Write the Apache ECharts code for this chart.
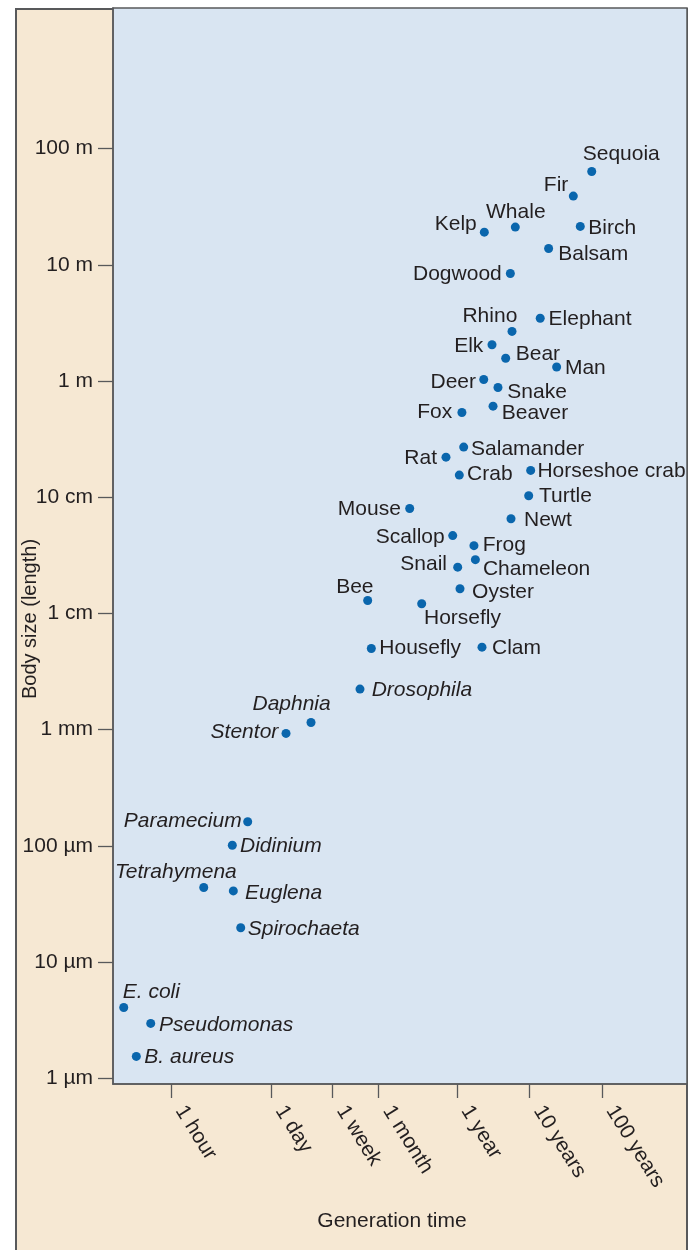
<!DOCTYPE html>
<html>
<head>
<meta charset="utf-8">
<script src="https://cdn.jsdelivr.net/npm/echarts@6/dist/echarts.min.js"></script>
<style>
  html, body { margin: 0; padding: 0; background: #fff; }
  #panel {
    position: absolute; left: 15px; top: 8px; width: 673px; height: 1250px;
    box-sizing: border-box; background: #f6e8d3;
    border: 2px solid #58595b; border-bottom: none;
  }
  #chart { position: absolute; left: 0; top: 0; width: 695px; height: 1250px; }
</style>
</head>
<body>
<div id="panel"></div>
<div id="chart"></div>
<script>
// organisms, generation time (hours) and body length (metres)
const names = [
  'Sequoia', 'Fir', 'Whale', 'Kelp', 'Birch', 'Balsam', 'Dogwood',
  'Rhino', 'Elephant', 'Elk', 'Bear', 'Man', 'Deer', 'Snake', 'Fox', 'Beaver',
  'Salamander', 'Rat', 'Crab', 'Horseshoe crab', 'Turtle', 'Mouse', 'Newt',
  'Scallop', 'Frog', 'Chameleon', 'Snail', 'Oyster', 'Bee', 'Horsefly',
  'Housefly', 'Clam', 'Drosophila', 'Daphnia', 'Stentor',
  'Paramecium', 'Didinium', 'Tetrahymena', 'Euglena', 'Spirochaeta',
  'E. coli', 'Pseudomonas', 'B. aureus'
];
const genHours = [
  637000, 355000, 56200, 21000, 443000, 162000, 48000,
  50600, 124000, 26800, 41400, 209000, 20600, 32400, 10300, 27700,
  10900, 6210, 9480, 91600, 86000, 1960, 49000,
  7690, 15100, 15800, 9010, 9690, 516, 2870,
  579, 19500, 404, 85.2, 38.5,
  11.4, 6.99, 2.82, 7.22, 9.13,
  0.222, 0.523, 0.331
];
const sizeMeters = [
  63.5, 39, 21.1, 19.1, 21.4, 13.8, 8.42,
  2.67, 3.47, 2.05, 1.57, 1.32, 1.03, 0.88, 0.536, 0.607,
  0.270, 0.221, 0.155, 0.170, 0.103, 0.080, 0.0653,
  0.0467, 0.0383, 0.0290, 0.0250, 0.0163, 0.0129, 0.0121,
  0.00499, 0.00512, 0.00223, 0.00115, 0.000927,
  1.61e-4, 1.01e-4, 4.38e-5, 4.09e-5, 1.97e-5,
  4.06e-6, 2.96e-6, 1.54e-6
];
const italicNames = ['Drosophila', 'Daphnia', 'Stentor', 'Paramecium', 'Didinium',
  'Tetrahymena', 'Euglena', 'Spirochaeta', 'E. coli', 'Pseudomonas', 'B. aureus'];

const xTickHours = [1, 24, 168, 730.5, 8766, 87660, 876600];
const xTickLabels = ['1 hour', '1 day', '1 week', '1 month', '1 year', '10 years', '100 years'];
const yTickMeters = [100, 10, 1, 0.1, 0.01, 0.001, 1e-4, 1e-5, 1e-6];
const yTickLabels = ['100 m', '10 m', '1 m', '10 cm', '1 cm', '1 mm', '100 \u00b5m', '10 \u00b5m', '1 \u00b5m'];

// label placement next to each dot: [align, dx, dy]
const labelPlace = {
  'Sequoia': ['left', -9, -17], 'Fir': ['right', -5, -10.5], 'Whale': ['center', 0.5, -15.3],
  'Kelp': ['right', -7.6, -7.5], 'Birch': ['left', 8, 2], 'Balsam': ['left', 9.6, 5.5],
  'Dogwood': ['right', -8.6, 0.7], 'Rhino': ['right', 5.3, -15.3], 'Elephant': ['left', 8.4, 1],
  'Elk': ['right', -8.7, 1.6], 'Bear': ['left', 10, -4.2], 'Man': ['left', 8.3, 1.5],
  'Deer': ['right', -7.7, 2.7], 'Snake': ['left', 9.3, 4.5], 'Fox': ['right', -9.7, 0.2],
  'Beaver': ['left', 8.7, 6.8], 'Salamander': ['left', 7.4, 2.6], 'Rat': ['right', -9, 1.3],
  'Crab': ['left', 7.8, -0.7], 'Horseshoe crab': ['left', 6.7, 0.4], 'Turtle': ['left', 10.3, 0.5],
  'Mouse': ['right', -8.8, 0.8], 'Newt': ['left', 13, 1], 'Scallop': ['right', -8, 1.5],
  'Frog': ['left', 8.8, -0.6], 'Chameleon': ['left', 7.5, 9.9], 'Snail': ['right', -10.7, -3.1],
  'Oyster': ['left', 12.1, 3.8], 'Bee': ['right', 5.8, -13.3], 'Horsefly': ['left', 2.3, 14],
  'Housefly': ['left', 8, 0], 'Clam': ['left', 10, 1.5], 'Drosophila': ['left', 11.7, 1.3],
  'Daphnia': ['right', 19.7, -18.6], 'Stentor': ['right', -7.7, -1.6],
  'Paramecium': ['right', -6, -0.9], 'Didinium': ['left', 7.7, 1.2],
  'Tetrahymena': ['right', 33, -14.8], 'Euglena': ['left', 11.7, 2.1],
  'Spirochaeta': ['left', 7, 1.8], 'E. coli': ['left', -1, -15.6],
  'Pseudomonas': ['left', 8.3, 2], 'B. aureus': ['left', 8, 0.9]
};

const font = "'Liberation Sans', Arial, Helvetica, sans-serif";
const ink = '#231f20';
const frame = '#58595b';
const dotSize = 9;
const r = dotSize / 2;

const xTickLog = xTickHours.map(v => Math.log10(v));
const yTickLog = yTickMeters.map(v => Math.log10(v));
const pick = (vals, labels, v) => {
  const i = vals.findIndex(t => Math.abs(t - v) < 1e-6);
  return i < 0 ? '' : labels[i];
};

const points = names.map((n, i) => {
  const p = labelPlace[n];
  return {
    name: n,
    value: [Math.log10(genHours[i]), Math.log10(sizeMeters[i])],
    label: {
      position: [r + p[1], r + p[2]],
      align: p[0],
      verticalAlign: 'middle',
      fontStyle: italicNames.includes(n) ? 'italic' : 'normal'
    }
  };
});

const chart = echarts.init(document.getElementById('chart'), null, { renderer: 'canvas' });
chart.setOption({
  backgroundColor: 'transparent',
  animation: false,
  textStyle: { fontFamily: font, color: ink },
  grid: {
    left: 113, right: 8, top: 8, bottom: 166,
    outerBoundsMode: 'none',
    containLabel: false,
    show: true, backgroundColor: '#d9e5f2', borderColor: frame, borderWidth: 1.5
  },
  xAxis: {
    type: 'value',
    min: -0.802, max: 7.119,
    name: 'Generation time',
    nameLocation: 'middle',
    nameGap: 127,
    nameMoveOverlap: false,
    nameTextStyle: { fontSize: 21, color: ink, fontFamily: font, padding: [0, 16, 0, 0] },
    splitLine: { show: false },
    axisLine: { show: true, onZero: false, lineStyle: { color: frame, width: 1.5 } },
    axisTick: { show: true, length: 14, customValues: xTickLog, lineStyle: { color: frame, width: 1.3 } },
    axisLabel: {
      customValues: xTickLog,
      rotate: -58, margin: 29, fontSize: 21, color: ink, fontFamily: font,
      align: 'left', verticalAlign: 'bottom',
      formatter: v => pick(xTickLog, xTickLabels, v)
    }
  },
  yAxis: {
    type: 'value',
    min: -6.05, max: 3.21,
    name: 'Body size (length)',
    nameLocation: 'middle',
    nameGap: 73,
    nameMoveOverlap: false,
    nameTextStyle: { fontSize: 20, color: ink, fontFamily: font, padding: [0, 146, 0, 0] },
    splitLine: { show: false },
    axisLine: { show: true, onZero: false, lineStyle: { color: frame, width: 1.5 } },
    axisTick: { show: true, length: 15, customValues: yTickLog, lineStyle: { color: frame, width: 1.3 } },
    axisLabel: {
      customValues: yTickLog,
      margin: 20, fontSize: 21, color: ink, fontFamily: font,
      formatter: v => pick(yTickLog, yTickLabels, v)
    }
  },
  series: [{
    type: 'scatter',
    symbol: 'circle',
    symbolSize: dotSize,
    itemStyle: { color: '#0a66ad', opacity: 1 },
    label: {
      show: true,
      formatter: '{b}',
      fontSize: 21,
      color: ink,
      fontFamily: font
    },
    labelLayout: { hideOverlap: false },
    emphasis: { disabled: true },
    data: points
  }]
});
</script>
</body>
</html>
